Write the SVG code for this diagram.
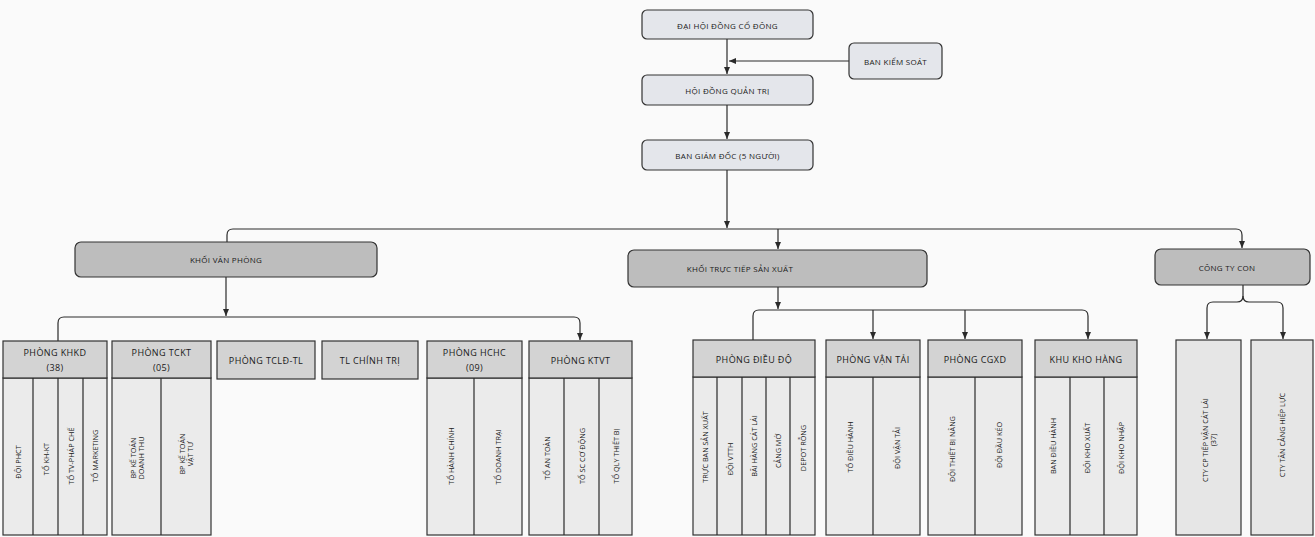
<svg xmlns="http://www.w3.org/2000/svg" width="1315" height="537" viewBox="0 0 1315 537">
<defs>
<marker id="ah" markerWidth="8" markerHeight="8" refX="7" refY="4" orient="auto" markerUnits="userSpaceOnUse">
<path d="M0,1 L7,4 L0,7 Z" fill="#2a2a2a"/>
</marker>
<style>
.top{fill:#e4e6eb;stroke:#333;stroke-width:1.2}
.blk{fill:#bdbdbd;stroke:#333;stroke-width:1.2}
.hdr{fill:#d3d3d3;stroke:#333;stroke-width:1.2}
.col{fill:#ebebeb;stroke:#333;stroke-width:1.2}
.cty{fill:#e6e6e6;stroke:#333;stroke-width:1.2}
.ln{fill:none;stroke:#2a2a2a;stroke-width:1.2}
.t{font-family:"Open Sans","Liberation Sans",sans-serif;fill:#1a1a1a;text-anchor:middle;dominant-baseline:central}
.ts{font-size:8px;letter-spacing:0.3px}
.th{font-size:9px;letter-spacing:0.4px}
.tv{font-size:7.3px}
</style>
</defs>
<rect width="1315" height="537" fill="#fafafa"/>

<g id="connectors">
<path class="ln" d="M727,39 V74" marker-end="url(#ah)"/>
<path class="ln" d="M849,61 H729" marker-end="url(#ah)"/>
<path class="ln" d="M727,105 V139" marker-end="url(#ah)"/>
<path class="ln" d="M727,170 V228" marker-end="url(#ah)"/>
<path class="ln" d="M227,242 V235 Q227,229 233,229 H1236 Q1242,229 1242,235 V248" marker-end="url(#ah)"/>
<path class="ln" d="M778,229 V249" marker-end="url(#ah)"/>
<path class="ln" d="M226,277 V316" marker-end="url(#ah)"/>
<path class="ln" d="M58,341 V323 Q58,317 64,317 H574 Q580,317 580,323 V340" marker-end="url(#ah)"/>
<path class="ln" d="M778,287 V309" marker-end="url(#ah)"/>
<path class="ln" d="M753,340 V316 Q753,310 759,310 H1082 Q1088,310 1088,316 V339" marker-end="url(#ah)"/>
<path class="ln" d="M873,310 V339" marker-end="url(#ah)"/>
<path class="ln" d="M965,310 V339" marker-end="url(#ah)"/>
<path class="ln" d="M1243,285 V296 Q1243,302 1237,302 H1213 Q1207,302 1207,308 V339" marker-end="url(#ah)"/>
<path class="ln" d="M1243,296 Q1243,302 1249,302 H1277 Q1283,302 1283,308 V339" marker-end="url(#ah)"/>
</g>

<g id="n-daihoidong">
<rect class="top" x="642" y="10" width="171" height="29" rx="5"/>
<text class="t ts" x="727.5" y="25">ĐẠI HỘI ĐỒNG CỔ ĐÔNG</text>
</g>
<g id="n-bankiemsoat">
<rect class="top" x="849" y="43" width="93" height="36" rx="5"/>
<text class="t ts" x="895.5" y="61">BAN KIỂM SOÁT</text>
</g>
<g id="n-hdqt">
<rect class="top" x="642" y="75" width="171" height="30" rx="5"/>
<text class="t ts" x="727.5" y="90">HỘI ĐỒNG QUẢN TRỊ</text>
</g>
<g id="n-bgd">
<rect class="top" x="642" y="140" width="171" height="30" rx="5"/>
<text class="t ts" x="727.5" y="155">BAN GIÁM ĐỐC (5 NGƯỜI)</text>
</g>

<g id="n-khoivanphong">
<rect class="blk" x="75" y="242" width="302" height="35" rx="6"/>
<text class="t ts" x="226" y="259.5">KHỐI VĂN PHÒNG</text>
</g>
<g id="n-khoitructiep">
<rect class="blk" x="628" y="250" width="299" height="37" rx="6"/>
<text class="t ts" x="740" y="268.5">KHỐI TRỰC TIẾP SẢN XUẤT</text>
</g>
<g id="n-congtycon">
<rect class="blk" x="1155" y="249" width="155" height="36" rx="6"/>
<text class="t ts" x="1227" y="267">CÔNG TY CON</text>
</g>

<g id="n-khkd">
<rect class="col" x="3" y="378" width="104" height="157"/>
<rect class="hdr" x="3" y="341" width="104" height="37"/>
<path class="ln" d="M33,378 V535 M58,378 V535 M83,378 V535"/>
<text class="t th" x="55" y="352">PHÒNG KHKD</text>
<text class="t th" x="55" y="367">(38)</text>
<text class="t tv" transform="translate(18,462) rotate(-90)">ĐỘI PHCT</text>
<text class="t tv" transform="translate(45.5,459) rotate(-90)">TỔ KH-KT</text>
<text class="t tv" transform="translate(70.5,456) rotate(-90)">TỔ TV-PHÁP CHẾ</text>
<text class="t tv" transform="translate(95,456) rotate(-90)">TỔ MARKETING</text>
</g>
<g id="n-tckt">
<rect class="col" x="112" y="378" width="99" height="157"/>
<rect class="hdr" x="112" y="341" width="99" height="37"/>
<path class="ln" d="M161,378 V535"/>
<text class="t th" x="161.5" y="352">PHÒNG TCKT</text>
<text class="t th" x="161.5" y="367">(05)</text>
<text class="t tv" transform="translate(136.5,458) rotate(-90)"><tspan x="0" dy="-4">BP KẾ TOÁN</tspan><tspan x="0" dy="8">DOANH THU</tspan></text>
<text class="t tv" transform="translate(186,454) rotate(-90)"><tspan x="0" dy="-4">BP KẾ TOÁN</tspan><tspan x="0" dy="8">VẬT TƯ</tspan></text>
</g>
<g id="n-tcld">
<rect class="hdr" x="217" y="341" width="98" height="38"/>
<text class="t th" x="266" y="360">PHÒNG TCLĐ-TL</text>
</g>
<g id="n-tlct">
<rect class="hdr" x="322" y="341" width="96" height="38"/>
<text class="t th" x="370" y="360">TL CHÍNH TRỊ</text>
</g>
<g id="n-hchc">
<rect class="col" x="427" y="378" width="95" height="157"/>
<rect class="hdr" x="427" y="341" width="95" height="37"/>
<path class="ln" d="M474,378 V535"/>
<text class="t th" x="474.5" y="352">PHÒNG HCHC</text>
<text class="t th" x="474.5" y="367">(09)</text>
<text class="t tv" transform="translate(450.5,456) rotate(-90)">TỔ HÀNH CHÍNH</text>
<text class="t tv" transform="translate(498,457) rotate(-90)">TỔ DOANH TRẠI</text>
</g>
<g id="n-ktvt">
<rect class="col" x="529" y="378" width="103" height="157"/>
<rect class="hdr" x="529" y="341" width="103" height="37"/>
<path class="ln" d="M564,378 V535 M599,378 V535"/>
<text class="t th" x="580.5" y="360">PHÒNG KTVT</text>
<text class="t tv" transform="translate(546.5,458) rotate(-90)">TỔ AN TOÀN</text>
<text class="t tv" transform="translate(581.5,456) rotate(-90)">TỔ SC CƠ ĐỘNG</text>
<text class="t tv" transform="translate(615.5,456) rotate(-90)">TỔ QLY THIẾT BỊ</text>
</g>

<g id="n-dieudo">
<rect class="col" x="693" y="377" width="122" height="158"/>
<rect class="hdr" x="693" y="340" width="122" height="37"/>
<path class="ln" d="M717,377 V535 M742,377 V535 M766,377 V535 M790,377 V535"/>
<text class="t th" x="754" y="359">PHÒNG ĐIỀU ĐỘ</text>
<text class="t tv" transform="translate(705,447) rotate(-90)">TRỰC BAN SẢN XUẤT</text>
<text class="t tv" transform="translate(729.5,459) rotate(-90)">ĐỘI VTTH</text>
<text class="t tv" transform="translate(754,446) rotate(-90)">BÃI HÀNG CÁT LÁI</text>
<text class="t tv" transform="translate(778,451) rotate(-90)">CẢNG MỚ</text>
<text class="t tv" transform="translate(802.5,448) rotate(-90)">DEPOT RỖNG</text>
</g>
<g id="n-vantai">
<rect class="col" x="826" y="377" width="94" height="158"/>
<rect class="hdr" x="826" y="340" width="94" height="37"/>
<path class="ln" d="M873,377 V535"/>
<text class="t th" x="873" y="359">PHÒNG VẬN TẢI</text>
<text class="t tv" transform="translate(849.5,447) rotate(-90)">TỔ ĐIỀU HÀNH</text>
<text class="t tv" transform="translate(896.5,448) rotate(-90)">ĐỘI VẬN TẢI</text>
</g>
<g id="n-cgxd">
<rect class="col" x="928" y="377" width="94" height="158"/>
<rect class="hdr" x="928" y="340" width="94" height="37"/>
<path class="ln" d="M975,377 V535"/>
<text class="t th" x="975" y="359">PHÒNG CGXD</text>
<text class="t tv" transform="translate(951.5,449) rotate(-90)">ĐỘI THIẾT BỊ NÂNG</text>
<text class="t tv" transform="translate(998.5,445) rotate(-90)">ĐỘI ĐẦU KÉO</text>
</g>
<g id="n-khukho">
<rect class="col" x="1035" y="377" width="102" height="158"/>
<rect class="hdr" x="1035" y="340" width="102" height="37"/>
<path class="ln" d="M1070,377 V535 M1104,377 V535"/>
<text class="t th" x="1086" y="359">KHU KHO HÀNG</text>
<text class="t tv" transform="translate(1052.5,446) rotate(-90)">BAN ĐIỀU HÀNH</text>
<text class="t tv" transform="translate(1087,448) rotate(-90)">ĐỘI KHO XUẤT</text>
<text class="t tv" transform="translate(1120.5,448) rotate(-90)">ĐỘI KHO NHẬP</text>
</g>

<g id="n-cty-catlai">
<rect class="cty" x="1176" y="340" width="65" height="195"/>
<text class="t tv" transform="translate(1208.5,440) rotate(-90)"><tspan x="0" dy="-4">CTY CP TIẾP VẬN CÁT LÁI</tspan><tspan x="0" dy="8">(37)</tspan></text>
</g>
<g id="n-cty-hiepluc">
<rect class="cty" x="1251" y="340" width="62" height="195"/>
<text class="t tv" transform="translate(1282,435) rotate(-90)">CTY TÂN CẢNG HIỆP LỰC</text>
</g>
</svg>
